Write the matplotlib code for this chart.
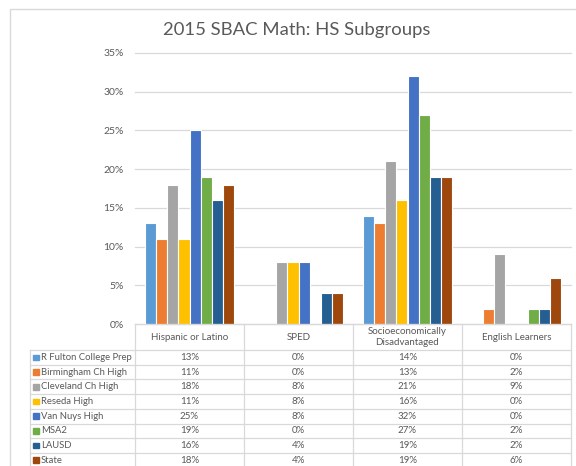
import matplotlib.pyplot as plt
from matplotlib.patches import Rectangle
from matplotlib.lines import Line2D

W, H = 576, 466

categories = ['Hispanic or Latino', 'SPED', 'Socioeconomically\nDisadvantaged', 'English Learners']
schools = ['R Fulton College Prep', 'Birmingham Ch High', 'Cleveland Ch High', 'Reseda High',
           'Van Nuys High', 'MSA2', 'LAUSD', 'State']
r_fulton = [13, 0, 14, 0]
birmingham = [11, 0, 13, 2]
cleveland = [18, 8, 21, 9]
reseda = [11, 8, 16, 0]
van_nuys = [25, 8, 32, 0]
msa2 = [19, 0, 27, 2]
lausd = [16, 4, 19, 2]
state = [18, 4, 19, 6]
series = [r_fulton, birmingham, cleveland, reseda, van_nuys, msa2, lausd, state]
colors = ['#5B9BD5', '#ED7D31', '#A5A5A5', '#FFC000', '#4472C4', '#70AD47', '#255E91', '#9E480E']

TXT = '#595959'
GRID = '#D9D9D9'
plt.rcParams['font.family'] = ['Lato', 'DejaVu Sans']


def fx(x):
    return x / W


def fy(y):
    return 1 - y / H


fig = plt.figure(figsize=(W / 100, H / 100), dpi=100)

# chart border
fig.add_artist(Rectangle((fx(10), fy(480)), fx(580) - fx(10), fy(9) - fy(480),
                         transform=fig.transFigure, fill=False, edgecolor=GRID, lw=1))

fig.text(fx(297), fy(30), '2015 SBAC Math: HS Subgroups', ha='center', va='center',
         fontsize=13.3, color=TXT)

left, right, top, bottom = 135, 571, 53, 324
ax = fig.add_axes([fx(left), fy(bottom), fx(right) - fx(left), fy(top) - fy(bottom)])
pitch = 0.103
for j, vals in enumerate(series):
    xs = [i + (j - 3.5) * pitch for i in range(len(categories))]
    ax.bar(xs, [v / 100 for v in vals], width=pitch, color=colors[j],
           edgecolor='white', linewidth=0.8, zorder=3)
ax.set_xlim(-0.5, 3.5)
ax.set_ylim(0, 0.35)
ax.set_yticks([i * 0.05 for i in range(8)])
ax.set_yticklabels([f'{i * 5}%' for i in range(8)], fontsize=7.5, color=TXT)
ax.tick_params(axis='y', length=0, pad=8)
ax.set_xticks([])
ax.yaxis.grid(True, color=GRID, lw=0.9, zorder=0)
ax.set_axisbelow(True)
for s in ax.spines.values():
    s.set_visible(False)
for line in ax.get_ygridlines():
    line.set_clip_on(False)

# data table
col_x = [135, 244, 353, 462, 571]
header_top, header_bot = 324, 350
row_h = 14.7
bottom_edge = 470


def hline(y, x0, x1):
    fig.add_artist(Line2D([fx(x0), fx(x1)], [fy(y), fy(y)], transform=fig.transFigure,
                          color=GRID, lw=0.9))


def vline(x, y0, y1):
    fig.add_artist(Line2D([fx(x), fx(x)], [fy(y0), fy(y1)], transform=fig.transFigure,
                          color=GRID, lw=0.9))


hline(header_top, 135, 571)
for c in col_x:
    vline(c, header_top, bottom_edge)
vline(30, header_bot, bottom_edge)
for r in range(9):
    hline(header_bot + r * row_h, 30, 571)

for i, cat in enumerate(categories):
    cx = (col_x[i] + col_x[i + 1]) / 2
    fig.text(fx(cx), fy((header_top + header_bot) / 2), cat, ha='center', va='center',
             fontsize=7, color=TXT, linespacing=1.2)

for j, name in enumerate(schools):
    cy = header_bot + (j + 0.5) * row_h
    fig.add_artist(Rectangle((fx(33), fy(cy + 2.8)), fx(5.6), fy(0) - fy(5.6),
                             transform=fig.transFigure, color=colors[j]))
    fig.text(fx(41), fy(cy), name, ha='left', va='center', fontsize=6.8, color=TXT)
    for i in range(len(categories)):
        cx = (col_x[i] + col_x[i + 1]) / 2
        fig.text(fx(cx), fy(cy), f'{series[j][i]}%', ha='center', va='center',
                 fontsize=7, color=TXT)

fig.savefig('out.png', dpi=100)
